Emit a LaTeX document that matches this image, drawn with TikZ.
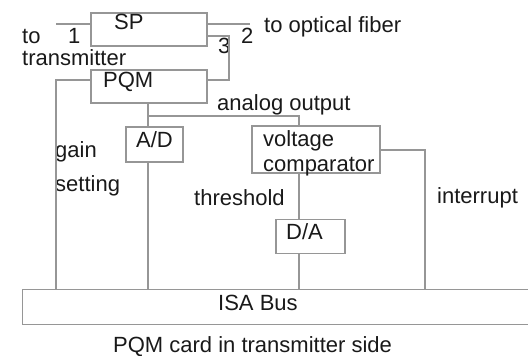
\documentclass[tikz,border=0pt]{standalone}
\usepackage{fontspec}
\setmainfont{Liberation Sans}
\definecolor{linegray}{RGB}{150,150,150}
\definecolor{textdark}{RGB}{25,25,25}
\begin{document}
\begin{tikzpicture}[x=1pt,y=-1pt,
  box/.style={draw=linegray,line width=1.3pt,inner sep=0pt,rectangle},
  wire/.style={draw=linegray,line width=1.3pt},
  lbl/.style={anchor=base west,inner sep=0pt,text=textdark,font=\fontsize{22}{26}\selectfont}]
\useasboundingbox (0,0) rectangle (528,356);
\clip (0,0) rectangle (528,356);
% boxes
\node[box,minimum width=116pt,minimum height=33pt] (SP) at (149,29.5) {};
\node[box,minimum width=116pt,minimum height=33pt] (PQM) at (149,86.5) {};
\node[box,minimum width=57pt,minimum height=35pt] (AD) at (154.5,144.5) {};
\node[box,minimum width=128pt,minimum height=47pt] (VC) at (316,149.5) {};
\node[box,minimum width=69pt,minimum height=34pt] (DA) at (310.5,236.5) {};
\node[box,minimum width=518pt,minimum height=35pt] (ISA) at (281.6,307.3) {};
% texts
\node[lbl] (tSP) at (114,29) {SP};
\node[lbl] (tPQM) at (103,87) {PQM};
\node[lbl] (tAD) at (136,147) {A/D};
\node[lbl] (tV1) at (263,146) {voltage};
\node[lbl] (tV2) at (263,171) {comparator};
\node[lbl] (tDA) at (286,239) {D/A};
\node[lbl] (tISA) at (218,310) {ISA Bus};
\node[lbl,text depth=0pt] (cap) at (113,352) {PQM card in transmitter side};
\node[lbl] (tto) at (22,43) {to};
\node[lbl] (t1) at (68,43) {1};
\node[lbl] (ttr) at (22,65) {transmitter};
\node[lbl] (t2) at (241,43) {2};
\node[lbl] (tof) at (264,32) {to optical fiber};
\node[lbl] (t3) at (218,53) {3};
\node[lbl] (tan) at (217,110) {analog output};
\node[lbl] (tga) at (55,157) {gain};
\node[lbl] (tse) at (55,191) {setting};
\node[lbl] (tth) at (194,205) {threshold};
\node[lbl] (tir) at (437,203) {interrupt};
% connector points
\coordinate (c1) at (56,24);
\coordinate (c2) at (250,24);
\coordinate (c3) at (229,36);
\coordinate (c3b) at (229,80);
\coordinate (g) at (56,80);
\coordinate (an) at (148,116);
\coordinate (an2) at (299,116);
\coordinate (ir) at (425,150);
% connectors
\draw[wire] (c1) -- (c1 -| SP.west);
\draw[wire] (c2 -| SP.east) -- (c2);
\draw[wire] (c3 -| SP.east) -- (c3) -- (c3b) -- (c3b -| PQM.east);
\draw[wire] (g -| PQM.west) -- (g) -- (g |- ISA.north);
\draw[wire] (an |- PQM.south) -- (an) -- (an2) -- (an2 |- VC.north);
\draw[wire] (an) -- (an |- AD.north);
\draw[wire] (an |- AD.south) -- (an |- ISA.north);
\draw[wire] (an2 |- VC.south) -- (an2 |- DA.north);
\draw[wire] (an2 |- DA.south) -- (an2 |- ISA.north);
\draw[wire] (ir -| VC.east) -- (ir) -- (ir |- ISA.north);
\end{tikzpicture}
\end{document}
